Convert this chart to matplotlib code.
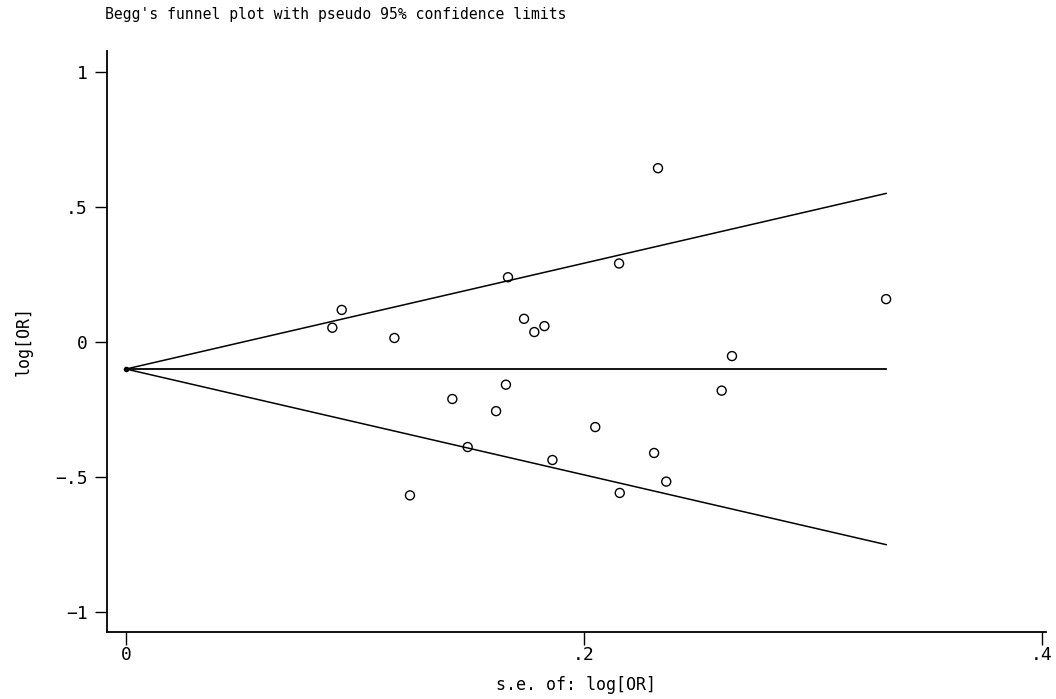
import matplotlib.pyplot as plt
import numpy as np

# --- Data ---
se = [0.0942, 0.0901, 0.1172, 0.1668, 0.2153, 0.1738, 0.1783, 0.1827, 0.2646, 0.1659,
      0.1425, 0.1616, 0.2049, 0.1492, 0.1862, 0.2306, 0.2359, 0.2156, 0.1240, 0.2601,
      0.2323, 0.3319]
log_or = [0.119, 0.053, 0.015, 0.240, 0.291, 0.086, 0.037, 0.059, -0.052, -0.158,
          -0.211, -0.256, -0.315, -0.389, -0.437, -0.411, -0.517, -0.559, -0.568, -0.180,
          0.644, 0.159]
pooled = -0.1
z = 1.96

fig = plt.figure(figsize=(10.56, 6.99), dpi=100)
ax = fig.add_axes([0.1013, 0.0959, 0.8892, 0.8311])

mono = 'DejaVu Sans Mono'

# pseudo 95% confidence limits
se_line = np.array([0.0, max(se)])
ax.plot(se_line, pooled + z * se_line, color='black', lw=1.1)
ax.plot(se_line, pooled - z * se_line, color='black', lw=1.1)
ax.plot(se_line, [pooled, pooled], color='black', lw=1.3)
ax.plot(0, pooled, marker='o', ms=3, color='black')

ax.scatter(se, log_or, s=42, facecolor='none', edgecolor='black', linewidth=1.0, zorder=3)

ax.set_xlim(-0.0083, 0.4017)
ax.set_ylim(-1.074, 1.078)
ax.set_xticks([0, 0.2, 0.4])
ax.set_xticklabels(['0', '.2', '.4'], fontfamily=mono, fontsize=13)
ax.set_yticks([-1, -0.5, 0, 0.5, 1])
ax.set_yticklabels(['\u22121', '\u2212.5', '0', '.5', '1'], fontfamily=mono, fontsize=13)
ax.tick_params(direction='out', length=9, width=1)
ax.tick_params(axis='x', pad=1)
ax.tick_params(axis='y', pad=5)

for s in ['top', 'right']:
    ax.spines[s].set_visible(False)
for s in ['left', 'bottom']:
    ax.spines[s].set_linewidth(1.3)

ax.set_xlabel('s.e. of: log[OR]', fontfamily=mono, fontsize=12, labelpad=9)
ax.set_ylabel('log[OR]', fontfamily=mono, fontsize=12, labelpad=16)

fig.text(105 / 1056, 1 - 14 / 699, "Begg's funnel plot with pseudo 95% confidence limits",
         fontfamily=mono, fontsize=10.6, va='center', ha='left')

fig.savefig('out.png', dpi=100)
